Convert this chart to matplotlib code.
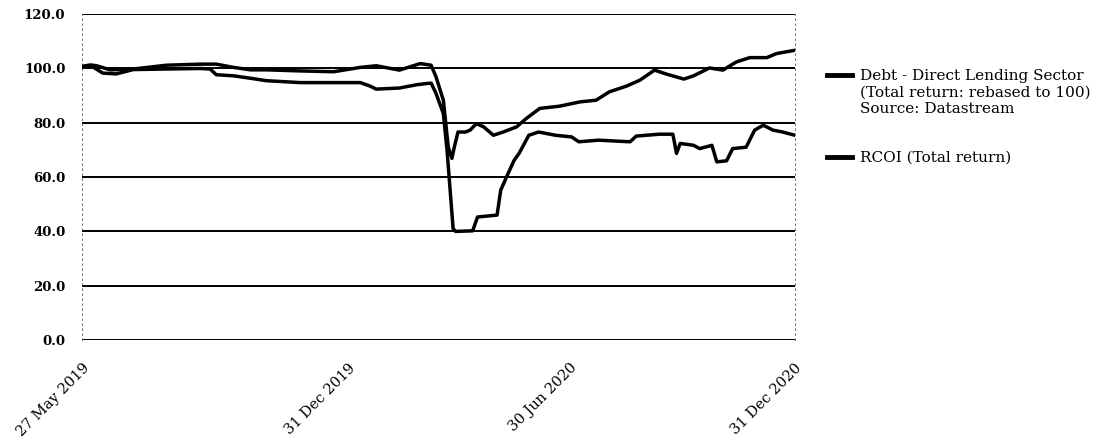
import pandas as pd
import numpy as np
import matplotlib
matplotlib.use('Agg')
import matplotlib.pyplot as plt
from matplotlib.lines import Line2D

# ---- data ----
debt_dates = ['2019-05-27', '2019-06-03', '2019-06-08', '2019-06-19', '2019-07-08', '2019-08-04',
              '2019-09-01', '2019-09-14', '2019-09-28', '2019-10-12', '2019-10-25', '2019-11-22',
              '2019-12-19', '2020-01-10', '2020-01-23', '2020-02-11', '2020-02-28', '2020-03-08',
              '2020-03-12', '2020-03-18', '2020-03-22', '2020-03-25', '2020-03-27', '2020-03-30',
              '2020-04-05', '2020-04-09', '2020-04-14', '2020-04-20', '2020-04-28', '2020-05-06',
              '2020-05-17', '2020-05-25', '2020-06-05', '2020-06-21', '2020-07-08', '2020-07-21',
              '2020-08-01', '2020-08-15', '2020-08-26', '2020-09-07', '2020-09-17', '2020-10-01',
              '2020-10-09', '2020-10-22', '2020-11-02', '2020-11-13', '2020-11-24', '2020-12-08',
              '2020-12-16', '2020-12-31']
debt_vals = [100.8, 101.3, 101.0, 99.5, 99.8, 101.2,
             101.6, 101.6, 100.4, 99.5, 99.5, 99.1,
             98.8, 100.4, 101.0, 99.4, 101.8, 101.2,
             96.9, 88.3, 71.1, 66.9, 71.1, 76.6,
             76.6, 77.3, 79.7, 78.5, 75.4, 76.6,
             78.5, 81.6, 85.3, 86.1, 87.7, 88.3,
             91.4, 93.5, 95.7, 99.4, 97.9, 96.1,
             97.3, 100.2, 99.4, 102.4, 104.0, 104.0,
             105.5, 106.7]

rcoi_dates = ['2019-05-27', '2019-06-04', '2019-06-13', '2019-06-24', '2019-07-08', '2019-08-04',
              '2019-09-01', '2019-09-09', '2019-09-14', '2019-09-28', '2019-10-12', '2019-10-25',
              '2019-11-22', '2019-12-19', '2020-01-10', '2020-01-18', '2020-01-23', '2020-02-11',
              '2020-02-25', '2020-03-05', '2020-03-08', '2020-03-12', '2020-03-18', '2020-03-21',
              '2020-03-26', '2020-03-28', '2020-04-11', '2020-04-15', '2020-05-01', '2020-05-04',
              '2020-05-10', '2020-05-15', '2020-05-19', '2020-05-27', '2020-06-04', '2020-06-18',
              '2020-07-01', '2020-07-07', '2020-07-23', '2020-08-18', '2020-08-23', '2020-09-11',
              '2020-09-22', '2020-09-25', '2020-09-28', '2020-10-09', '2020-10-14', '2020-10-24',
              '2020-10-28', '2020-11-05', '2020-11-10', '2020-11-21', '2020-11-28', '2020-12-05',
              '2020-12-13', '2020-12-21', '2020-12-31']
rcoi_vals = [100.5, 100.8, 98.3, 98.0, 99.6, 99.8,
             100.0, 99.8, 97.7, 97.3, 96.4, 95.5,
             94.8, 94.8, 94.8, 93.5, 92.4, 92.8,
             94.0, 94.5, 94.6, 90.8, 83.4, 70.0,
             41.0, 40.0, 40.2, 45.3, 46.0, 55.2,
             61.3, 66.2, 68.7, 75.4, 76.6, 75.4,
             74.8, 73.0, 73.6, 73.0, 75.1, 75.8,
             75.8, 68.7, 72.4, 71.7, 70.5, 71.7,
             65.6, 66.0, 70.5, 71.0, 77.3, 79.1,
             77.3, 76.6, 75.4]

tick_dates = ['2019-05-27', '2019-12-31', '2020-06-30', '2020-12-31']
tick_labels = ['27 May 2019', '31 Dec 2019', '30 Jun 2020', '31 Dec 2020']
y_ticks = [0, 20, 40, 60, 80, 100, 120]

legend_lines = ['Debt - Direct Lending Sector', '(Total return: rebased to 100)',
                'Source: Datastream', '', '', 'RCOI (Total return)']

# ---- plot ----
plt.rcParams['font.family'] = ['DejaVu Serif']

fig = plt.figure(figsize=(11.01, 4.43), dpi=100)
ax = fig.add_axes([0.0745, 0.2325, 0.6475, 0.7355])

for yv in y_ticks:
    ax.axhline(yv, color='black', lw=1.4, zorder=1)

ax.plot(pd.to_datetime(debt_dates), debt_vals, color='black', lw=2.5, zorder=3)
ax.plot(pd.to_datetime(rcoi_dates), rcoi_vals, color='black', lw=2.5, zorder=3)

ax.set_xlim(pd.Timestamp('2019-05-27'), pd.Timestamp('2020-12-31'))
ax.set_ylim(0, 120)

ax.set_yticks(y_ticks)
ax.set_yticklabels(['%.1f' % v for v in y_ticks], fontsize=9.5, fontweight='bold')
ax.set_xticks(pd.to_datetime(tick_dates))
ax.set_xticklabels(tick_labels, rotation=45, ha='right', rotation_mode='anchor', fontsize=10.5)
ax.tick_params(axis='both', length=0)
ax.tick_params(axis='y', pad=12)
ax.tick_params(axis='x', pad=15)

for side in ['top', 'bottom']:
    ax.spines[side].set_visible(False)
for side in ['left', 'right']:
    ax.spines[side].set_linestyle((0, (2, 4)))
    ax.spines[side].set_linewidth(0.6)
    ax.spines[side].set_color('#555555')

handles = []
for lab in legend_lines:
    if lab in ('Debt - Direct Lending Sector', 'RCOI (Total return)'):
        handles.append(Line2D([], [], color='black', lw=3.5))
    else:
        handles.append(Line2D([], [], color='none', lw=0))

fig.legend(handles, legend_lines, loc='upper left', bbox_to_anchor=(0.7457, 0.857),
           frameon=False, fontsize=11, handlelength=1.65, handletextpad=0.5,
           labelspacing=0.15, borderaxespad=0)

plt.savefig('out.png', dpi=100)
